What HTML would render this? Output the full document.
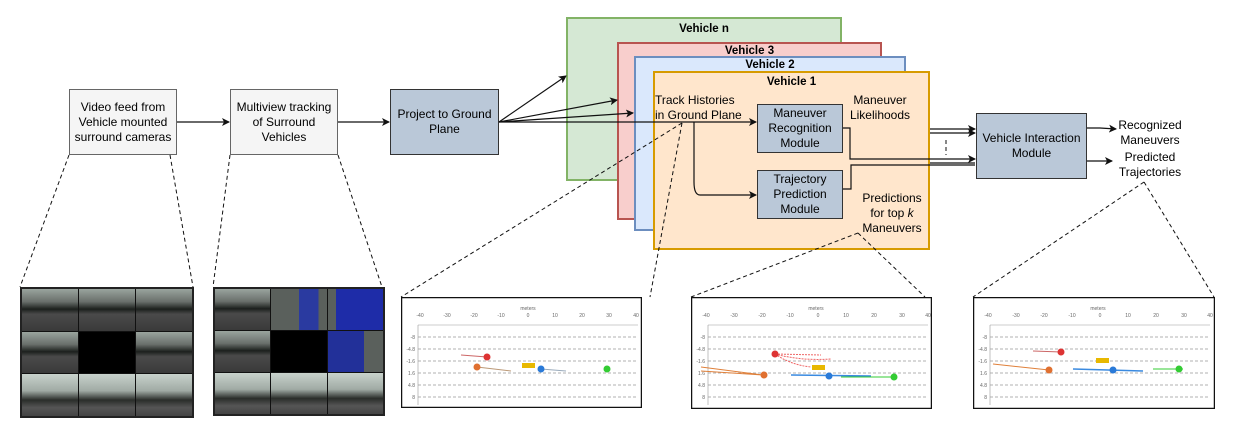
<!DOCTYPE html>
<html><head><meta charset="utf-8"><style>
body{margin:0;width:1236px;height:432px;background:#fff;position:relative;overflow:hidden;font-family:"Liberation Sans",sans-serif;}
.b{position:absolute;box-sizing:border-box;display:flex;align-items:center;justify-content:center;text-align:center;font-size:12px;line-height:15px;color:#000;}
.lt{background:#f5f5f5;border:1.5px solid #666;}
.bl{background:#bac8d8;border:1.5px solid #333;}
.v{position:absolute;box-sizing:border-box;border:2px solid;font-weight:bold;font-size:11.5px;text-align:center;}
.t{position:absolute;font-size:12px;line-height:15px;text-align:center;}
.cam{position:absolute;display:grid;grid-template-columns:1fr 1fr 1fr;grid-template-rows:1fr 1fr 1fr;border:2px solid #222;background:#111;gap:1px;}
.cam div{background:linear-gradient(#9aa49e 0%,#6a706c 30%,#1c201d 48%,#4a4a4a 60%,#3a3a3a 100%);}
.cam div.s{background:linear-gradient(#c8d2cc 0%,#a0aaa4 40%,#2a2d2a 62%,#555 80%,#444 100%);}
</style></head><body>
<div class="v" style="left:566px;top:17px;width:276px;height:164px;background:#d5e8d4;border-color:#82b366;padding-top:4px">Vehicle n</div>
<div class="v" style="left:617px;top:42px;width:265px;height:178px;background:#f8cecc;border-color:#b85450;padding-top:1px">Vehicle 3</div>
<div class="v" style="left:634px;top:56px;width:272px;height:175px;background:#dae8fc;border-color:#6c8ebf;padding-top:1px">Vehicle 2</div>
<div class="v" style="left:653px;top:71px;width:277px;height:179px;background:#ffe6cc;border-color:#d79b00;padding-top:3px">Vehicle 1</div>

<div class="b lt" style="left:69px;top:89px;width:108px;height:66px">Video feed from<br>Vehicle mounted<br>surround cameras</div>
<div class="b lt" style="left:230px;top:89px;width:108px;height:66px">Multiview tracking<br>of Surround<br>Vehicles</div>
<div class="b bl" style="left:390px;top:89px;width:109px;height:66px">Project to Ground<br>Plane</div>
<div class="b bl" style="left:757px;top:104px;width:86px;height:49px">Maneuver<br>Recognition<br>Module</div>
<div class="b bl" style="left:757px;top:170px;width:86px;height:49px">Trajectory<br>Prediction<br>Module</div>
<div class="b bl" style="left:976px;top:113px;width:111px;height:66px">Vehicle Interaction<br>Module</div>

<div class="t" style="left:655px;top:93px;text-align:left">Track Histories<br>in Ground Plane</div>
<div class="t" style="left:843px;top:93px;width:74px">Maneuver<br>Likelihoods</div>
<div class="t" style="left:856px;top:191px;width:72px">Predictions<br>for top <i>k</i><br>Maneuvers</div>
<div class="t" style="left:1108px;top:118px;width:84px">Recognized<br>Maneuvers</div>
<div class="t" style="left:1108px;top:150px;width:84px">Predicted<br>Trajectories</div>

<svg style="position:absolute;left:0;top:0" width="1236" height="432">
<defs><marker id="a" markerWidth="8" markerHeight="8" refX="7" refY="4" orient="auto" markerUnits="userSpaceOnUse"><path d="M0,0 L8,4 L0,8 L2,4z" fill="#111"/></marker></defs>
<g stroke="#111" stroke-width="1.2" fill="none">
<line x1="177" y1="122" x2="229" y2="122" marker-end="url(#a)"/>
<line x1="338" y1="122" x2="389" y2="122" marker-end="url(#a)"/>
<line x1="499" y1="122" x2="566" y2="76" marker-end="url(#a)"/>
<line x1="499" y1="122" x2="617" y2="100" marker-end="url(#a)"/>
<line x1="499" y1="122" x2="633" y2="113" marker-end="url(#a)"/>
<line x1="499" y1="122" x2="756" y2="122" marker-end="url(#a)"/>
<path d="M694,122 V182 Q694,195 700,195 H756" marker-end="url(#a)"/>
<path d="M843,128 H850 V159 H975" marker-end="url(#a)"/>
<path d="M843,189 H851 V165 H975"/>
<line x1="930" y1="129" x2="975" y2="129" marker-end="url(#a)"/>
<line x1="930" y1="133" x2="975" y2="133" marker-end="url(#a)"/>
<line x1="930" y1="163" x2="975" y2="163" />
<path d="M1087,128 H1100 L1116,129" marker-end="url(#a)"/>
<path d="M1087,161 H1100 L1112,161" marker-end="url(#a)"/>
</g>
<g stroke="#111" stroke-width="1" fill="none" stroke-dasharray="4,3">
<line x1="946" y1="140" x2="946" y2="155"/>
<line x1="69" y1="155" x2="20" y2="287"/><line x1="170" y1="155" x2="193" y2="287"/>
<line x1="230" y1="155" x2="213" y2="287"/><line x1="338" y1="155" x2="382" y2="287"/>
<line x1="682" y1="123" x2="401" y2="297"/><line x1="682" y1="123" x2="650" y2="297"/>
<line x1="858" y1="233" x2="691" y2="297"/><line x1="858" y1="233" x2="925" y2="297"/>
<line x1="1144" y1="182" x2="973" y2="297"/><line x1="1144" y1="182" x2="1214" y2="297"/>
</g>
</svg>

<div class="cam" style="left:20px;top:287px;width:170px;height:127px">
<div></div><div></div><div></div><div></div><div style="background:#000"></div><div></div><div class="s"></div><div class="s"></div><div class="s"></div></div>
<div class="cam" style="left:213px;top:287px;width:168px;height:125px">
<div></div><div style="background:linear-gradient(90deg,#5a605c 50%,#2a3aa0 50%,#2a3aa0 85%,#5a605c 85%)"></div><div style="background:linear-gradient(90deg,#5a605c 15%,#1e2ca8 15%)"></div><div></div><div style="background:#000"></div><div style="background:linear-gradient(90deg,#223099 65%,#5a605c 65%)"></div><div class="s"></div><div class="s"></div><div class="s"></div></div>

<svg style="position:absolute;left:401px;top:297px" width="241" height="111" font-family="Liberation Sans" font-size="5" fill="#666">
<rect x="0.5" y="0.5" width="240" height="110" fill="#fff" stroke="#111" stroke-width="1.5"/>
<text x="127" y="13" text-anchor="middle">meters</text>
<g text-anchor="middle"><text x="19" y="20">-40</text><text x="46" y="20">-30</text><text x="73" y="20">-20</text><text x="100" y="20">-10</text><text x="127" y="20">0</text><text x="154" y="20">10</text><text x="181" y="20">20</text><text x="208" y="20">30</text><text x="235" y="20">40</text></g>
<g text-anchor="end"><text x="14" y="42">-8</text><text x="14" y="54">-4.8</text><text x="14" y="66">-1.6</text><text x="14" y="78">1.6</text><text x="14" y="90">4.8</text><text x="14" y="102">8</text></g>
<line x1="17" y1="28" x2="237" y2="28" stroke="#999" stroke-width="0.6"/><line x1="17" y1="28" x2="17" y2="108" stroke="#999" stroke-width="0.6"/>
<g stroke="#999" stroke-dasharray="3,2" stroke-width="0.7"><line x1="17" y1="40" x2="237" y2="40"/><line x1="17" y1="52" x2="237" y2="52"/><line x1="17" y1="64" x2="237" y2="64"/><line x1="17" y1="76" x2="237" y2="76"/><line x1="17" y1="88" x2="237" y2="88"/><line x1="17" y1="100" x2="237" y2="100"/></g>
<line x1="60" y1="58" x2="86" y2="60" stroke="#c66" /><circle cx="86" cy="60" r="3.5" fill="#d33"/>
<rect x="121" y="66" width="13" height="5" fill="#e8b800"/>
<line x1="76" y1="70" x2="110" y2="74" stroke="#b97"/><circle cx="76" cy="70" r="3.5" fill="#e07030"/>
<line x1="140" y1="72" x2="165" y2="74" stroke="#9ab"/><circle cx="140" cy="72" r="3.5" fill="#2a7ad8"/>
<circle cx="206" cy="72" r="3.5" fill="#3c3"/>
</svg>
<svg style="position:absolute;left:691px;top:297px" width="241" height="112" font-family="Liberation Sans" font-size="5" fill="#666">
<rect x="0.5" y="0.5" width="240" height="111" fill="#fff" stroke="#111" stroke-width="1.5"/>
<text x="125" y="13" text-anchor="middle">meters</text>
<g text-anchor="middle"><text x="15" y="20">-40</text><text x="43" y="20">-30</text><text x="71" y="20">-20</text><text x="99" y="20">-10</text><text x="127" y="20">0</text><text x="155" y="20">10</text><text x="183" y="20">20</text><text x="211" y="20">30</text><text x="237" y="20">40</text></g>
<g text-anchor="end"><text x="14" y="42">-8</text><text x="14" y="54">-4.8</text><text x="14" y="66">-1.6</text><text x="14" y="78">1.6</text><text x="14" y="90">4.8</text><text x="14" y="102">8</text></g>
<line x1="17" y1="28" x2="237" y2="28" stroke="#999" stroke-width="0.6"/><line x1="17" y1="28" x2="17" y2="108" stroke="#999" stroke-width="0.6"/>
<g stroke="#999" stroke-dasharray="3,2" stroke-width="0.7"><line x1="17" y1="40" x2="237" y2="40"/><line x1="17" y1="52" x2="237" y2="52"/><line x1="17" y1="64" x2="237" y2="64"/><line x1="17" y1="76" x2="237" y2="76"/><line x1="17" y1="88" x2="237" y2="88"/><line x1="17" y1="100" x2="237" y2="100"/></g>
<path d="M84,57 L130,58 M84,57 Q110,64 140,62 M84,57 Q100,68 120,70" stroke="#e66" fill="none" stroke-dasharray="2,1"/><circle cx="84" cy="57" r="3.5" fill="#d33"/>
<rect x="121" y="68" width="13" height="5" fill="#e8b800"/>
<path d="M10,70 L72,78 M10,74 L72,78" stroke="#e0803a"/><circle cx="73" cy="78" r="3.5" fill="#e07030"/>
<path d="M100,78 L180,79" stroke="#3a8ae0" stroke-width="1.5"/><circle cx="138" cy="79" r="3.5" fill="#2a7ad8"/>
<path d="M150,80 L205,80" stroke="#3c3"/><circle cx="203" cy="80" r="3.5" fill="#3c3"/>
</svg>
<svg style="position:absolute;left:973px;top:297px" width="242" height="112" font-family="Liberation Sans" font-size="5" fill="#666">
<rect x="0.5" y="0.5" width="241" height="111" fill="#fff" stroke="#111" stroke-width="1.5"/>
<text x="125" y="13" text-anchor="middle">meters</text>
<g text-anchor="middle"><text x="15" y="20">-40</text><text x="43" y="20">-30</text><text x="71" y="20">-20</text><text x="99" y="20">-10</text><text x="127" y="20">0</text><text x="155" y="20">10</text><text x="183" y="20">20</text><text x="211" y="20">30</text><text x="237" y="20">40</text></g>
<g text-anchor="end"><text x="14" y="42">-8</text><text x="14" y="54">-4.8</text><text x="14" y="66">-1.6</text><text x="14" y="78">1.6</text><text x="14" y="90">4.8</text><text x="14" y="102">8</text></g>
<line x1="17" y1="28" x2="237" y2="28" stroke="#999" stroke-width="0.6"/><line x1="17" y1="28" x2="17" y2="108" stroke="#999" stroke-width="0.6"/>
<g stroke="#999" stroke-dasharray="3,2" stroke-width="0.7"><line x1="17" y1="40" x2="237" y2="40"/><line x1="17" y1="52" x2="237" y2="52"/><line x1="17" y1="64" x2="237" y2="64"/><line x1="17" y1="76" x2="237" y2="76"/><line x1="17" y1="88" x2="237" y2="88"/><line x1="17" y1="100" x2="237" y2="100"/></g>
<line x1="60" y1="54" x2="88" y2="55" stroke="#c66"/><circle cx="88" cy="55" r="3.5" fill="#d33"/>
<rect x="123" y="61" width="13" height="5" fill="#e8b800"/>
<path d="M20,67 L76,73" stroke="#e0803a"/><circle cx="76" cy="73" r="3.5" fill="#e07030"/>
<path d="M100,72 L170,74" stroke="#3a8ae0" stroke-width="1.5"/><circle cx="140" cy="73" r="3.5" fill="#2a7ad8"/>
<path d="M180,72 L210,72" stroke="#3c3"/><circle cx="206" cy="72" r="3.5" fill="#3c3"/>
</svg>
</body></html>
